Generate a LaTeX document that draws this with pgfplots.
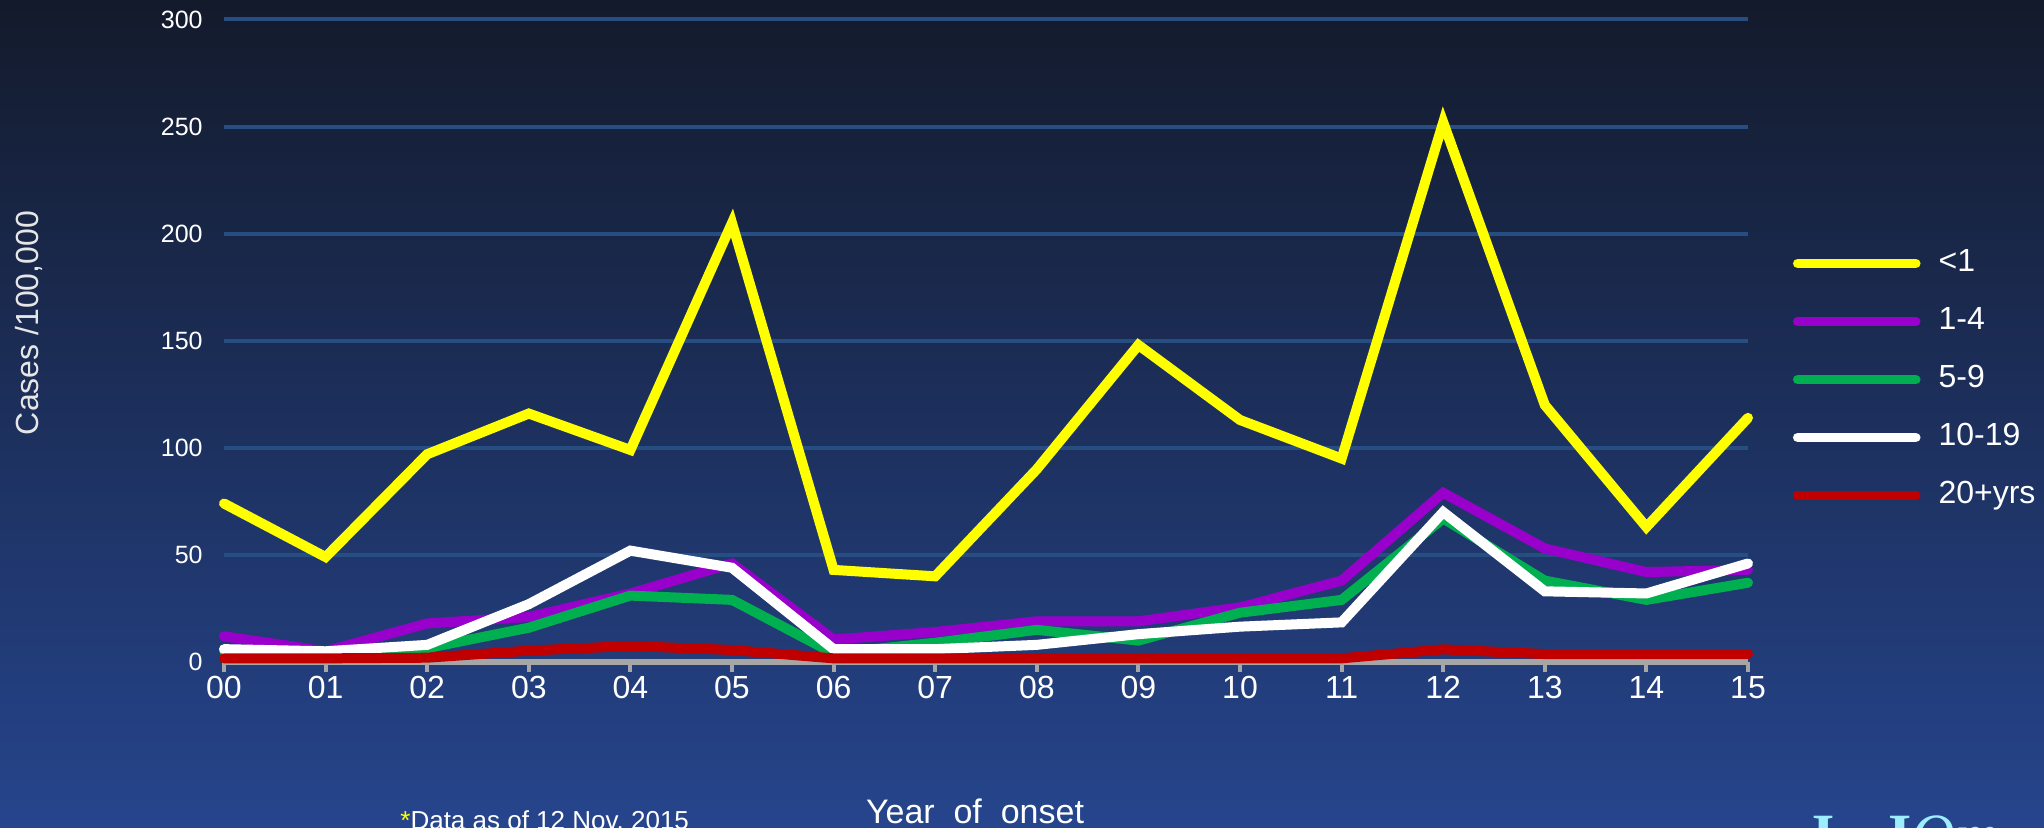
\documentclass[border=0pt]{standalone}
\usepackage{pgfplots}
\pgfplotsset{compat=1.18}
\usepackage{pgfplotstable}
\usepackage{fontspec}
\setmainfont{Liberation Sans}
\newfontfamily\seriffont{Liberation Serif}
\definecolor{bgtop}{HTML}{131A2B}
\definecolor{bgbot}{HTML}{26458D}
\definecolor{gridc}{HTML}{264E82}
\definecolor{axgray}{HTML}{A6A6A6}
\definecolor{cyel}{HTML}{FFFF00}
\definecolor{cpur}{HTML}{9900CC}
\definecolor{cgrn}{HTML}{00B050}
\definecolor{cred}{HTML}{C00000}
\definecolor{logoc}{HTML}{9CEEFF}
\definecolor{labc}{HTML}{E6E6E6}

\pgfplotstableread{
x  lt1  a14   a59  a1019 a20
0  74   12    5    6     1.7
1  49   5     5    5     1.7
2  97   18    6.5  8     2
3  116  21    16   27    5.3
4  99   32    31   52    7.5
5  205  46    29   44    5.6
6  43   10.5  4    6     1.7
7  40   14    9    6     1.7
8  90   19    15   8     1.7
9  148  19    10   13    1.7
10 113  25.5  23   16.5  1.7
11 95   38    29   18.5  1.7
12 252  79    67   70    5.9
13 120  53    38   33    3.7
14 63   42    29   32    3.7
15 114  43    37   46    3.7
}\datatable

\begin{document}
\begin{tikzpicture}
\useasboundingbox (0,0) rectangle (1022pt,414pt);
\begin{scope}
\clip (0,0) rectangle (1022pt,414pt);
\shade[top color=bgtop, bottom color=bgbot] (0,0) rectangle (1022pt,414pt);
\begin{axis}[
  at={(112pt,83pt)}, anchor=south west,
  scale only axis, width=762pt, height=321.25pt,
  xmin=0, xmax=15, ymin=0, ymax=300,
  enlargelimits=false,
  clip=false,
  axis x line*=bottom, axis y line*=left,
  x axis line style={draw=axgray, line width=3pt, -},
  y axis line style={draw=none, -},
  tick align=outside, major tick length=5pt,
  xtick={0,1,...,15},
  xticklabels={00,01,02,03,04,05,06,07,08,09,10,11,12,13,14,15},
  xtick style={draw=axgray, line width=2pt},
  ytick={0,50,100,150,200,250,300},
  yticklabels={0,50,100,150,200,250,300},
  ytick style={draw=none},
  ymajorgrids,
  major grid style={draw=gridc, line width=2pt},
  xticklabel style={font=\fontsize{16}{16}\selectfont, text=white, inner sep=0pt, yshift=-2pt},
  yticklabel style={font=\fontsize{12.5}{12.5}\selectfont, text=white, inner sep=0pt, xshift=-5.5pt},
  ylabel={Cases /100,000},
  ylabel style={at={(axis description cs:-0.128,0.5276)}, anchor=center, font=\fontsize{16}{16}\selectfont, text=labc},
  xlabel={Year\ \ of\ \ onset},
  xlabel style={at={(axis description cs:0.4928,-0.2521)}, anchor=base, font=\fontsize{17}{17}\selectfont, text=white},
  legend cell align=left,
  legend image code/.code={\draw[line width=4.8pt, line cap=round] (0pt,0pt) -- (59pt,0pt);},
  legend style={at={(axis description cs:1.0295,0.6437)}, anchor=north west,
    draw=none, fill=none, inner sep=0pt, outer sep=0pt,
    row sep=14pt, column sep=9pt,
    font=\fontsize{16}{16}\selectfont, text=white,
    nodes={inner sep=0pt, text height=11.5pt, text depth=3.5pt}},
  every axis plot/.append style={line width=5pt, line cap=round, line join=miter},
]
\addplot[color=cyel] table[x=x, y=lt1] {\datatable};
\addlegendentry{<1}
\addplot[color=cpur] table[x=x, y=a14] {\datatable};
\addlegendentry{1-4}
\addplot[color=cgrn] table[x=x, y=a59] {\datatable};
\addlegendentry{5-9}
\addplot[color=white] table[x=x, y=a1019] {\datatable};
\addlegendentry{10-19}
\addplot[color=cred] table[x=x, y=a20] {\datatable};
\addlegendentry{20+yrs}
\end{axis}
\node[anchor=base west, inner sep=0pt, text=white, font=\fontsize{13}{13}\selectfont] at (200pt,-1pt) {\textcolor{cyel}{*}Data as of 12 Nov.\ 2015};
\node[anchor=north west, inner sep=0pt, text=logoc, font=\seriffont\bfseries\fontsize{30}{30}\selectfont] at (902pt,6.5pt) {J\hspace{0.9em}I\textmd{\itshape Om}};
\end{scope}
\end{tikzpicture}
\end{document}
